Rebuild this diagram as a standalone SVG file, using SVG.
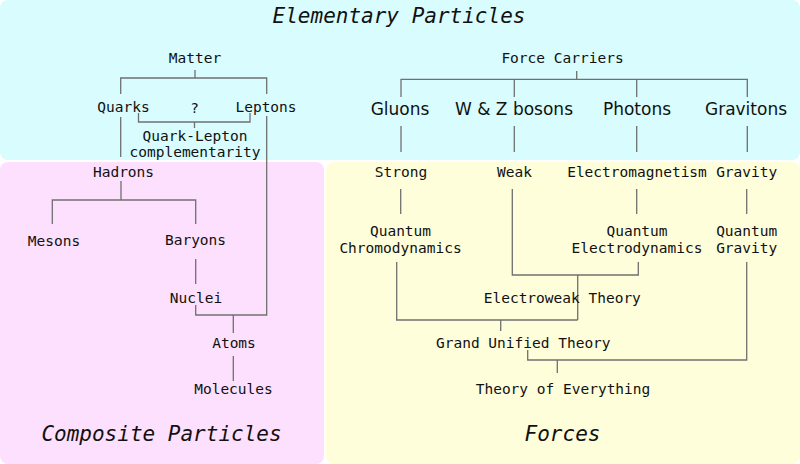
<svg xmlns="http://www.w3.org/2000/svg" width="800" height="464" viewBox="0 0 800 464">
<style>
.bg{stroke:none}
.t{font-family:"DejaVu Sans Mono","Liberation Mono",monospace;font-size:14.5px;fill:#111;text-anchor:middle}
.p{font-family:"DejaVu Sans","Liberation Sans",sans-serif;font-size:17px;fill:#111;text-anchor:middle}
.h{font-family:"DejaVu Sans Mono","Liberation Mono",monospace;font-size:21px;font-style:italic;fill:#111;text-anchor:middle}
.c{fill:none;stroke:#707070;stroke-width:1.3}
</style>
<rect width="800" height="464" fill="#ffffff"/>
<g id="regions">
<rect id="elementary" class="bg" x="0" y="0" width="800" height="160" rx="8" fill="#d9fcfe"/>
<rect id="composite" class="bg" x="0" y="162" width="324" height="302" rx="8" fill="#fde0fd"/>
<rect id="forces" class="bg" x="326" y="162" width="474" height="302" rx="8" fill="#fefedb"/>
<text class="h" x="399" y="23">Elementary Particles</text>
<text class="h" x="161.5" y="441">Composite Particles</text>
<text class="h" x="562.5" y="441">Forces</text>
</g>
<g id="connectors">
<path class="c" d="M195,70V78M120.7,94V78H266.7V94"/>
<path class="c" d="M138.5,113V122H250V113M194.5,122V128"/>
<path class="c" d="M120.7,117V157"/>
<path class="c" d="M266.7,116V315H195.7V305M233.3,315V333"/>
<path class="c" d="M121,181V200M52.3,224V200H195.7V224"/>
<path class="c" d="M195.7,259V284"/>
<path class="c" d="M233.3,356V381"/>
<path class="c" d="M576.7,71V79.3M401,97V79.3H747.3V97M514.3,79.3V97M636.7,79.3V97"/>
<path class="c" d="M401,126V152M514.3,126V152M636.7,126V152M747.3,126V152"/>
<path class="c" d="M400.7,189V214M636.7,189V214M746.7,189V214"/>
<path class="c" d="M512.3,189V275H638.3V262M577.7,275V320"/>
<path class="c" d="M396.7,262V320H577.7M500.7,320V331"/>
<path class="c" d="M746.7,262V360H527.7V350M557.3,360V373"/>
</g>
<g id="n-matter"><text class="t" x="195" y="63">Matter</text></g>
<g id="n-quarks"><text class="t" x="123.5" y="112">Quarks</text></g>
<g id="n-leptons"><text class="t" x="266" y="112">Leptons</text></g>
<g id="n-qlc"><text class="t" x="194.5" y="113">?</text><text class="t" x="195" y="140.5">Quark-Lepton</text><text class="t" x="195" y="156.5">complementarity</text></g>
<g id="n-hadrons"><text class="t" x="123.5" y="177">Hadrons</text></g>
<g id="n-mesons"><text class="t" x="54" y="246">Mesons</text></g>
<g id="n-baryons"><text class="t" x="195.5" y="245">Baryons</text></g>
<g id="n-nuclei"><text class="t" x="196" y="302.5">Nuclei</text></g>
<g id="n-atoms"><text class="t" x="234" y="348">Atoms</text></g>
<g id="n-molecules"><text class="t" x="233.5" y="394">Molecules</text></g>
<g id="n-forcecarriers"><text class="t" x="562.5" y="63">Force Carriers</text></g>
<g id="n-gluons"><text class="p" x="400" y="115">Gluons</text></g>
<g id="n-wz"><text class="p" x="514" y="115">W &amp; Z bosons</text></g>
<g id="n-photons"><text class="p" x="637" y="115">Photons</text></g>
<g id="n-gravitons"><text class="p" x="746" y="115">Gravitons</text></g>
<g id="n-strong"><text class="t" x="401" y="176.5">Strong</text></g>
<g id="n-weak"><text class="t" x="514.5" y="176.5">Weak</text></g>
<g id="n-em"><text class="t" x="637" y="176.5">Electromagnetism</text></g>
<g id="n-gravity"><text class="t" x="746.7" y="176.5">Gravity</text></g>
<g id="n-qcd"><text class="t" x="400.5" y="236">Quantum</text><text class="t" x="400.5" y="253">Chromodynamics</text></g>
<g id="n-qed"><text class="t" x="637" y="236">Quantum</text><text class="t" x="637" y="253">Electrodynamics</text></g>
<g id="n-qg"><text class="t" x="746.7" y="236">Quantum</text><text class="t" x="746.7" y="253">Gravity</text></g>
<g id="n-ew"><text class="t" x="562.3" y="302.5">Electroweak Theory</text></g>
<g id="n-gut"><text class="t" x="523.3" y="348">Grand Unified Theory</text></g>
<g id="n-toe"><text class="t" x="563" y="394">Theory of Everything</text></g>
</svg>
